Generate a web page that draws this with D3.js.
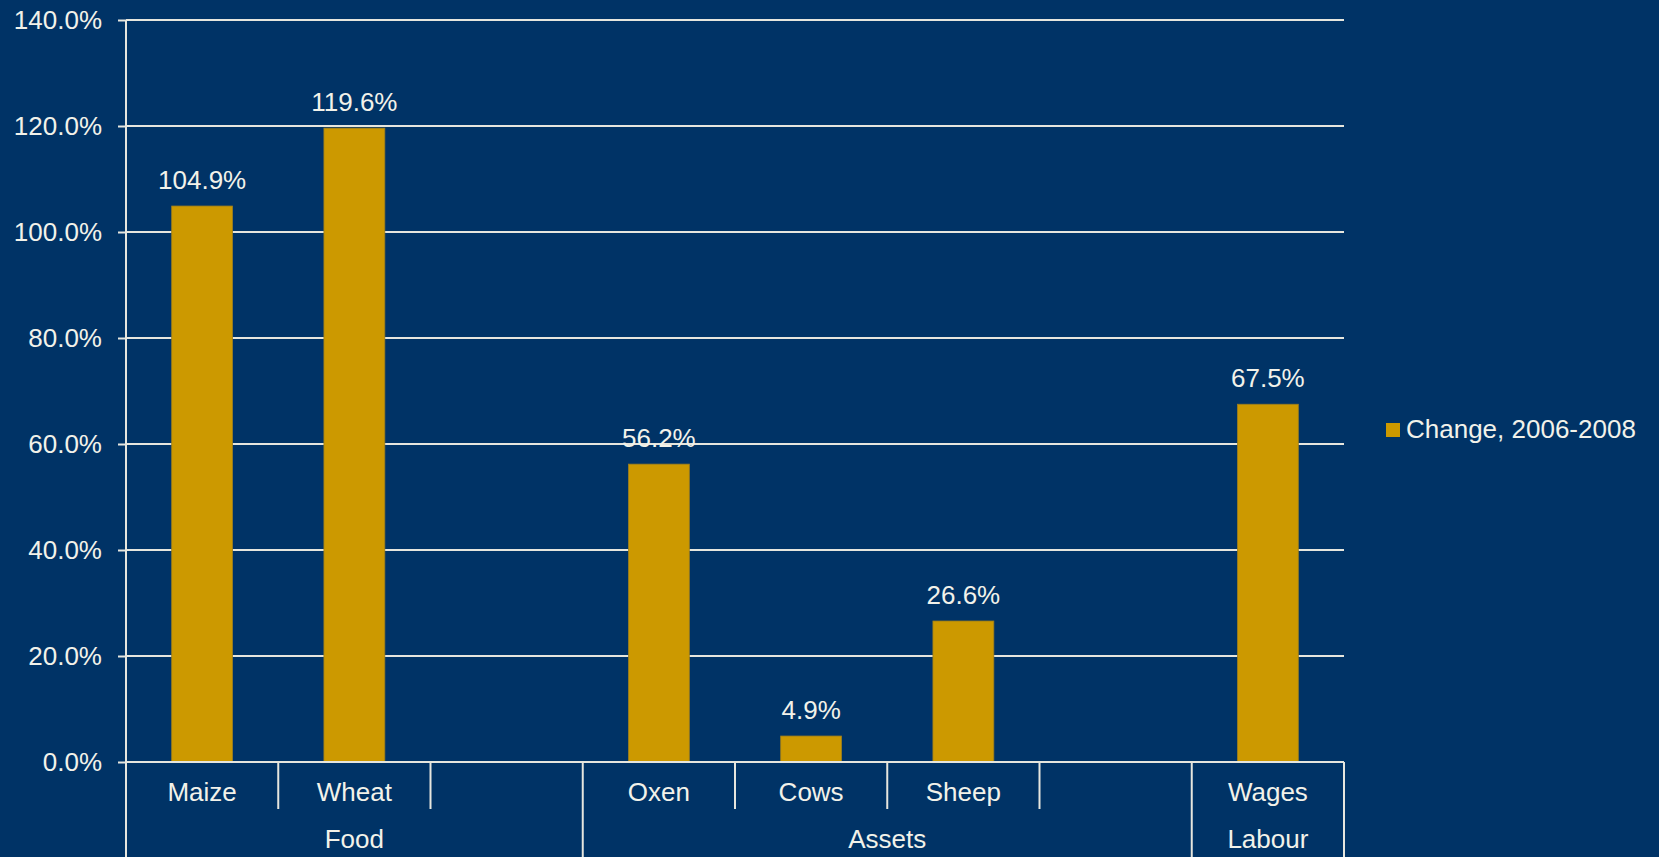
<!DOCTYPE html>
<html>
<head>
<meta charset="utf-8">
<script src="https://cdn.jsdelivr.net/npm/d3@7"></script>
<style>
  html, body { margin: 0; padding: 0; background: #003366; }
  svg { display: block; }
  text { font-family: "Liberation Sans", Arial, sans-serif; fill: #F2F2EA; }
</style>
</head>
<body>
<svg id="chart" width="1659" height="857"></svg>
<script>
// Price change by item, 2006-2008
const categories = ["Maize", "Wheat", "", "Oxen", "Cows", "Sheep", "", "Wages"];
const values = [104.9, 119.6, null, 56.2, 4.9, 26.6, null, 67.5];
const groups = ["Food", "Assets", "Labour"];
const groupSizes = [3, 4, 1];
const yTicks = [0, 20, 40, 60, 80, 100, 120, 140];
const seriesName = "Change, 2006-2008";

const W = 1659, H = 857;
const plotLeft = 126, plotRight = 1344, plotTop = 20, plotZero = 762;
const barColor = "#CC9900";
const lineColor = "#E6E6DE";

const svg = d3.select("#chart");
svg.append("rect").attr("width", W).attr("height", H).attr("fill", "#003366");

const idx = d3.range(categories.length);
const x = d3.scaleBand().domain(idx).range([plotLeft, plotRight])
  .paddingInner(0.6).paddingOuter(0.3);
const step = x.step();
const y = d3.scaleLinear().domain([0, 140]).range([plotZero, plotTop]);

// horizontal gridlines
svg.append("g").selectAll("line").data(yTicks).join("line")
  .attr("x1", plotLeft).attr("x2", plotRight)
  .attr("y1", d => y(d)).attr("y2", d => y(d))
  .attr("stroke", lineColor).attr("stroke-width", 2);

// value axis
const yAxis = d3.axisLeft(y).tickValues(yTicks)
  .tickFormat(d => d.toFixed(1) + "%").tickSize(8).tickPadding(16);
const gy = svg.append("g").attr("transform", `translate(${plotLeft},0)`).call(yAxis);
gy.select(".domain").remove();
gy.selectAll(".tick line").attr("stroke", lineColor).attr("stroke-width", 2);
gy.selectAll(".tick text").attr("font-size", 26).attr("fill", "#F2F2EA")
  .attr("font-family", "'Liberation Sans', Arial, sans-serif");
svg.append("line").attr("x1", plotLeft).attr("x2", plotLeft)
  .attr("y1", plotTop).attr("y2", H)
  .attr("stroke", lineColor).attr("stroke-width", 2);

// bars
const barData = idx.filter(i => values[i] != null);
svg.append("g").selectAll("rect").data(barData).join("rect")
  .attr("x", i => x(i))
  .attr("width", x.bandwidth())
  .attr("y", i => y(values[i]))
  .attr("height", i => y(0) - y(values[i]))
  .attr("fill", barColor)
  .attr("stroke", "#9C7E1E").attr("stroke-width", 0.8);

// value labels
svg.append("g").selectAll("text").data(barData).join("text")
  .attr("x", i => x(i) + x.bandwidth() / 2)
  .attr("y", i => y(values[i]) - 17)
  .attr("text-anchor", "middle").attr("font-size", 26)
  .text(i => values[i].toFixed(1) + "%");

// category axis line
svg.append("line").attr("x1", plotLeft).attr("x2", plotRight)
  .attr("y1", plotZero).attr("y2", plotZero)
  .attr("stroke", lineColor).attr("stroke-width", 2);

// slot separators: group boundaries run to the bottom edge
const groupEnds = d3.cumsum(groupSizes);
const bounds = d3.range(categories.length + 1);
svg.append("g").selectAll("line").data(bounds).join("line")
  .attr("x1", b => plotLeft + b * step).attr("x2", b => plotLeft + b * step)
  .attr("y1", plotZero)
  .attr("y2", b => (b === 0 || groupEnds.includes(b)) ? H : 809)
  .attr("stroke", lineColor).attr("stroke-width", 2);

// category labels
svg.append("g").selectAll("text").data(idx).join("text")
  .attr("x", i => plotLeft + (i + 0.5) * step)
  .attr("y", 801)
  .attr("text-anchor", "middle").attr("font-size", 26)
  .text(i => categories[i]);

// group labels
const groupStarts = [0, ...Array.from(groupEnds).slice(0, -1)];
svg.append("g").selectAll("text").data(groups).join("text")
  .attr("x", (g, k) => plotLeft + (groupStarts[k] + groupSizes[k] / 2) * step)
  .attr("y", 848)
  .attr("text-anchor", "middle").attr("font-size", 26)
  .text(g => g);

// legend
const lg = svg.append("g").attr("transform", "translate(1386,423)");
lg.append("rect").attr("width", 14).attr("height", 14).attr("fill", barColor);
lg.append("text").attr("x", 20).attr("y", 14.5).attr("font-size", 26).text(seriesName);
</script>
</body>
</html>
